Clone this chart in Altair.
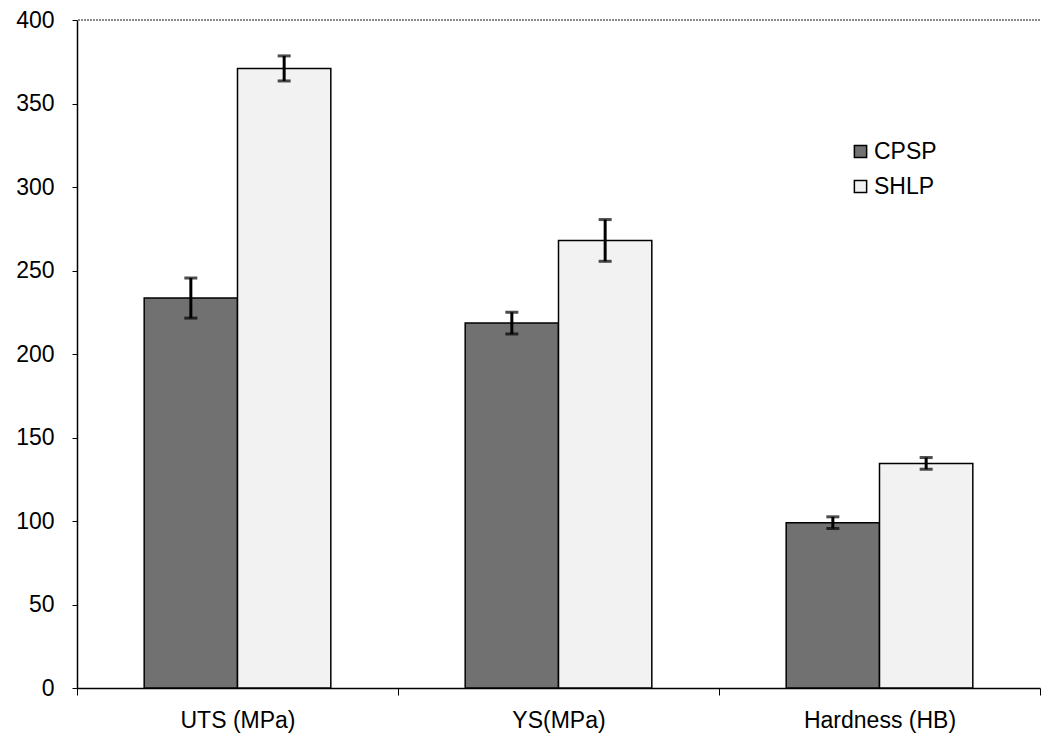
import altair as alt
import pandas as pd

categories = ["UTS (MPa)", "YS(MPa)", "Hardness (HB)"]
series = ["CPSP", "SHLP"]
cpsp_vals = [233.5, 218.5, 99]
shlp_vals = [371, 268, 134.5]
cpsp_err = [12, 6.5, 3.5]
shlp_err = [7.5, 12.5, 3.5]
y_ticks = [0, 50, 100, 150, 200, 250, 300, 350, 400]

rows = []
for i, c in enumerate(categories):
    rows.append({"cat": c, "series": "CPSP", "value": cpsp_vals[i],
                 "lo": cpsp_vals[i] - cpsp_err[i], "hi": cpsp_vals[i] + cpsp_err[i]})
    rows.append({"cat": c, "series": "SHLP", "value": shlp_vals[i],
                 "lo": shlp_vals[i] - shlp_err[i], "hi": shlp_vals[i] + shlp_err[i]})
df = pd.DataFrame(rows)

FONT = "Liberation Sans"
FS = 23

x_scale = alt.Scale(paddingInner=0, paddingOuter=0)
x_enc = alt.X("cat:N", sort=categories, title=None, scale=x_scale,
              axis=alt.Axis(labelFont=FONT, labelFontSize=FS, labelColor="black",
                            labelAngle=0, labelPadding=14, domainColor="black",
                            domainWidth=1.5, tickColor="black", tickBand="extent",
                            tickSize=7, tickWidth=1))
y_scale = alt.Scale(domain=[0, 400], nice=False)
xoff = alt.XOffset("series:N", sort=series,
                   scale=alt.Scale(paddingInner=0, paddingOuter=0.72))

bars = alt.Chart(df).mark_bar(stroke="black", strokeWidth=1.5).encode(
    x=x_enc,
    xOffset=xoff,
    y=alt.Y("value:Q", scale=y_scale, title=None,
            axis=alt.Axis(values=y_ticks, labelFont=FONT, labelFontSize=FS,
                          labelColor="black", grid=False, domainColor="black",
                          domainWidth=1.5, tickColor="black", tickSize=5,
                          labelPadding=18)),
    color=alt.Color("series:N", sort=series,
                    scale=alt.Scale(domain=series, range=["#717171", "#f2f2f2"]),
                    legend=alt.Legend(title=None, orient="none", legendX=772, legendY=120,
                                      symbolType="square", symbolSize=150,
                                      symbolStrokeColor="black", symbolStrokeWidth=1.5,
                                      labelFont=FONT, labelFontSize=FS, labelColor="black",
                                      rowPadding=11, labelOffset=2)),
)

err = alt.Chart(df).mark_rule(color="black", strokeWidth=3).encode(
    x=alt.X("cat:N", sort=categories, scale=x_scale),
    xOffset=xoff,
    y=alt.Y("lo:Q", scale=y_scale),
    y2="hi:Q",
)
cap_lo = alt.Chart(df).mark_tick(color="black", thickness=3, size=13, orient="horizontal").encode(
    x=alt.X("cat:N", sort=categories, scale=x_scale),
    xOffset=xoff,
    y=alt.Y("lo:Q", scale=y_scale),
)
cap_hi = alt.Chart(df).mark_tick(color="black", thickness=3, size=13, orient="horizontal").encode(
    x=alt.X("cat:N", sort=categories, scale=x_scale),
    xOffset=xoff,
    y=alt.Y("hi:Q", scale=y_scale),
)
top_line = alt.Chart(pd.DataFrame({"y": [400]})).mark_rule(
    color="#666666", strokeWidth=1.5, strokeDash=[2, 1]).encode(
    y=alt.Y("y:Q", scale=y_scale)
)

chart = alt.layer(bars, err, cap_lo, cap_hi, top_line).properties(
    width=963, height=668,
    autosize=alt.AutoSizeParams(type="none"),
    padding={"left": 77, "top": 20, "right": 9, "bottom": 57},
    background="white",
).configure_view(stroke=None)

chart.save("out.html", embed_options={"renderer": "svg", "actions": False})
